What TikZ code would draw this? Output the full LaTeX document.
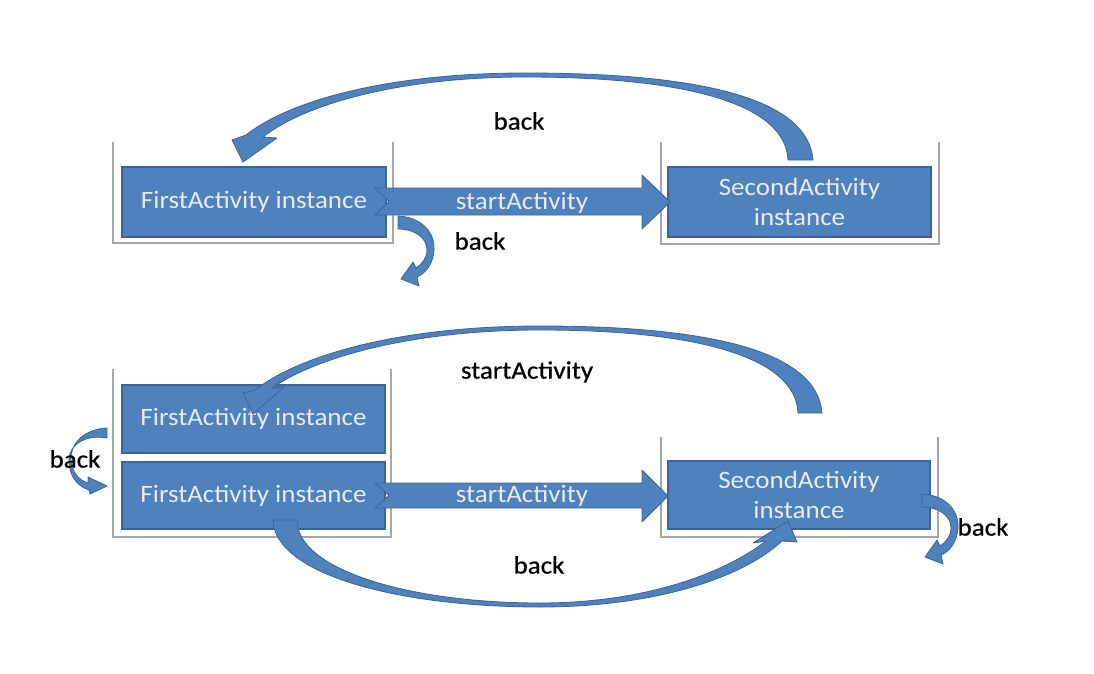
\documentclass[tikz,border=0pt]{standalone}
\usepackage{fontspec}
\setmainfont{Carlito}
\newfontfamily\boxfont[FakeStretch=1.08]{Carlito}
\newfontfamily\lblfont[FakeStretch=1.08,FakeBold=0.6]{Carlito}
\definecolor{boxblue}{HTML}{4F81BD}
\definecolor{boxedge}{HTML}{3C6496}
\definecolor{boxtext}{HTML}{E6ECF5}
\definecolor{framegray}{HTML}{A6A6A6}
\tikzset{
  actbox/.style={draw=boxedge, line width=1.2pt, fill=boxblue, text=boxtext,
    inner sep=0pt, outer sep=0pt, align=center,
    font=\boxfont\fontsize{25}{30}\selectfont},
  lbl/.style={text=black, inner sep=1pt, font=\lblfont\fontsize{25}{29}\selectfont},
  arrlbl/.style={text=boxtext, inner sep=1pt, font=\boxfont\fontsize{25}{29}\selectfont},
  frameline/.style={draw=framegray, line width=1.5pt},
  arrowshape/.style={fill=boxblue, draw=boxedge, line width=0.8pt, line join=round},
  smallbackR/.pic={
    \path[arrowshape] (0,0) .. controls (22,1) and (37,15) .. (36,34)
      .. controls (35,48) and (28,57) .. (19,61) -- (21,70) -- (3,63) -- (15,46) -- (18,52)
      .. controls (24,48) and (29,42) .. (29,34)
      .. controls (29,22) and (17,13) .. (0,13) -- cycle;
  },
  smallbackL/.pic={
    \path[arrowshape] (0,0) .. controls (-22,1) and (-37,15) .. (-36,32)
      .. controls (-35,45) and (-28,52) .. (-19,55) -- (-19,49) -- (0,58) -- (-17,66) -- (-18,62)
      .. controls (-30,58) and (-38,48) .. (-38,32)
      .. controls (-38,17) and (-22,6) .. (0,10) -- cycle;
  }
}
\begin{document}
\begin{tikzpicture}[x=1pt,y=-1pt]
\useasboundingbox[fill=white] (0,0) rectangle (1094,674);

% ---------- containers ----------
\draw[frameline] (113,142) -- (113,243) -- (393,243) -- (393,142);
\draw[frameline] (661,142) -- (661,244) -- (939,244) -- (939,142);
\draw[frameline] (113,369) -- (113,537) -- (391,537) -- (391,369);
\draw[frameline] (661,437) -- (661,537) -- (938,537) -- (938,437);

% ---------- boxes ----------
\node[actbox, minimum width=264pt, minimum height=70pt] (f1) at (254,202) {FirstActivity instance};
\node[actbox, minimum width=263pt, minimum height=70pt] (s1) at (799.5,202) {SecondActivity\\instance};
\node[actbox, minimum width=263pt, minimum height=68pt] (f2) at (253.5,419) {FirstActivity instance};
\node[actbox, minimum width=263pt, minimum height=67pt] (f3) at (253.5,495.5) {FirstActivity instance};
\node[actbox, minimum width=262pt, minimum height=68pt] (s2) at (799,495) {SecondActivity\\instance};

% ---------- straight block arrows ----------
\path[arrowshape] (375,188) -- (642,188) -- (642,175) -- (670,202) -- (642,229) -- (642,215) -- (375,215) -- (389,201.5) -- cycle;
\node[arrlbl] (sa1) at (522,203) {startActivity};
\path[arrowshape] (375,483) -- (642,483) -- (642,470) -- (668,496) -- (642,522) -- (642,508) -- (375,508) -- (389,495.5) -- cycle;
\node[arrlbl] (sa2) at (522,496) {startActivity};

% ---------- top row back arc ----------
\path[arrowshape] (813,160) .. controls (808,98) and (700,73) .. (525,73)
  .. controls (390,73) and (290,100) .. (246,135) -- (232,140) -- (243,162) -- (277,138) -- (263,137)
  .. controls (305,104) and (400,77) .. (525,77)
  .. controls (690,77) and (786,105) .. (788,160) -- cycle;
\node[lbl] (b1) at (519,121) {back};

% small back arrow under first box
\pic at (398,216) {smallbackR};
\node[lbl] (b2) at (480,241) {back};

% ---------- bottom row startActivity arc ----------
\path[arrowshape] (822,413) .. controls (817,351) and (710,326) .. (540,326)
  .. controls (400,326) and (300,355) .. (255,390) -- (243,393) -- (253,414) -- (284,387) -- (272,388)
  .. controls (315,358) and (410,330) .. (540,330)
  .. controls (700,330) and (796,358) .. (798,413) -- cycle;
\node[lbl] (sa3) at (527,372) {startActivity};

% ---------- bottom row back arc ----------
\path[arrowshape] (273,520) .. controls (275,575) and (400,607) .. (540,607)
  .. controls (650,607) and (740,580) .. (782,541) -- (797,542) -- (788,521) -- (753,543) -- (766,541)
  .. controls (720,576) and (640,603) .. (540,603)
  .. controls (410,603) and (297,570) .. (297,520) -- cycle;
\node[lbl] (b3) at (539,565) {back};

% right small back arrow
\pic at (922,494) {smallbackR};
\node[lbl] (b4) at (983,527) {back};

% left small back arrow (curving to the left)
\pic at (107,428) {smallbackL};
\node[lbl] (b5) at (75,459) {back};
\end{tikzpicture}
\end{document}
